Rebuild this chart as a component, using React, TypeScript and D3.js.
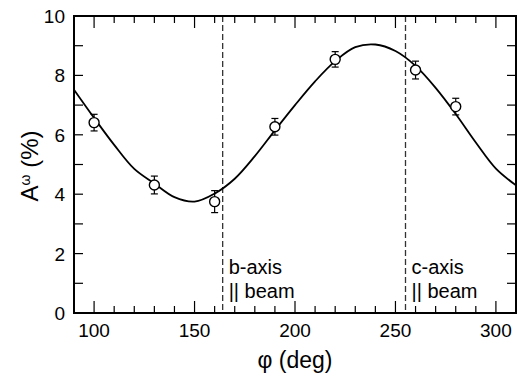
import React from "react";
import * as d3 from "d3";

const pointPhi = [100, 130, 160, 190, 220, 260, 280];
const pointA = [6.41, 4.31, 3.75, 6.27, 8.54, 8.18, 6.95];
const pointErr = [0.28, 0.3, 0.37, 0.28, 0.26, 0.3, 0.28];

const curvePhi = [90, 100, 110, 120, 130, 140, 150, 160, 170, 180, 190, 200, 210, 220, 230, 240, 250, 260, 270, 280, 290, 300, 310];
const curveA = [7.52, 6.57, 5.66, 4.85, 4.36, 3.9, 3.75, 4.02, 4.52, 5.28, 6.15, 7.0, 7.8, 8.48, 8.95, 9.04, 8.82, 8.32, 7.58, 6.7, 5.74, 4.86, 4.3];

const markerPhi = [164, 255];
const markerLine1 = ["b-axis", "c-axis"];
const markerLine2 = ["|| beam", "|| beam"];

const xTicksMajor = [100, 150, 200, 250, 300];
const yTickLabels = [0, 2, 4, 6, 8, 10];

const W = 518, H = 377;
const L = 74, R = 516, T = 16, B = 313;

export default function App() {
  const x = d3.scaleLinear().domain([90, 310]).range([L, R]);
  const y = d3.scaleLinear().domain([0, 10]).range([B, T]);
  const line = d3
    .line<number>()
    .x((_, i) => x(curvePhi[i]))
    .y((d) => y(d))
    .curve(d3.curveCatmullRom.alpha(0.5));
  const minorX = d3.range(90, 311, 10);
  const minorY = d3.range(0, 11, 1);
  const font = "'Liberation Sans', Arial, Helvetica, sans-serif";
  return (
    <svg width={W} height={H} style={{ position: "absolute", left: 0, top: 0, background: "#fff" }} fontFamily={font}>
      <defs>
        <clipPath id="plot">
          <rect x={L} y={T} width={R - L} height={B - T} />
        </clipPath>
      </defs>
      {markerPhi.map((p, i) => (
        <g key={"m" + i}>
          <line x1={x(p)} x2={x(p)} y1={T} y2={B} stroke="#333" strokeWidth={1.3} strokeDasharray="6,3" />
          <text x={x(p) + 6} y={274} fontSize={20} fill="#000">{markerLine1[i]}</text>
          <text x={x(p) + 6} y={298} fontSize={20} fill="#000">{markerLine2[i]}</text>
        </g>
      ))}
      <path d={line(curveA) || ""} fill="none" stroke="#000" strokeWidth={1.8} clipPath="url(#plot)" />
      {pointPhi.map((p, i) => {
        const cx = x(p);
        const y1 = y(pointA[i] + pointErr[i]);
        const y2 = y(pointA[i] - pointErr[i]);
        return (
          <g key={"p" + i}>
            <line x1={cx} x2={cx} y1={y1} y2={y2} stroke="#000" strokeWidth={1.2} />
            <line x1={cx - 3.5} x2={cx + 3.5} y1={y1} y2={y1} stroke="#000" strokeWidth={1.2} />
            <line x1={cx - 3.5} x2={cx + 3.5} y1={y2} y2={y2} stroke="#000" strokeWidth={1.2} />
            <circle cx={cx} cy={y(pointA[i])} r={5} fill="#fff" stroke="#000" strokeWidth={1.4} />
          </g>
        );
      })}
      {minorX.map((v) => {
        const major = v % 50 === 0;
        const len = major ? 12 : 7;
        return (
          <g key={"xt" + v}>
            <line x1={x(v)} x2={x(v)} y1={B} y2={B - len} stroke="#000" strokeWidth={1.2} />
            <line x1={x(v)} x2={x(v)} y1={T} y2={T + len} stroke="#000" strokeWidth={1.2} />
          </g>
        );
      })}
      {minorY.map((v) => (
        <g key={"yt" + v}>
          <line x1={L} x2={L + 9} y1={y(v)} y2={y(v)} stroke="#000" strokeWidth={1.2} />
          <line x1={R} x2={R - 9} y1={y(v)} y2={y(v)} stroke="#000" strokeWidth={1.2} />
        </g>
      ))}
      <rect x={L} y={T} width={R - L} height={B - T} fill="none" stroke="#000" strokeWidth={2} />
      {xTicksMajor.map((v) => (
        <text key={"xl" + v} x={x(v)} y={337} fontSize={19} textAnchor="middle" fill="#000">{v}</text>
      ))}
      {yTickLabels.map((v) => (
        <text key={"yl" + v} x={65} y={y(v) + 7} fontSize={19} textAnchor="end" fill="#000">{v}</text>
      ))}
      <text x={x(200)} y={368} fontSize={23} textAnchor="middle" fill="#000">φ (deg)</text>
      <text transform="translate(38,166) rotate(-90)" fontSize={24} textAnchor="middle" fill="#000">
        A<tspan fontSize={14} dy={-8}>ω</tspan>
        <tspan dy={8}> (%)</tspan>
      </text>
    </svg>
  );
}
